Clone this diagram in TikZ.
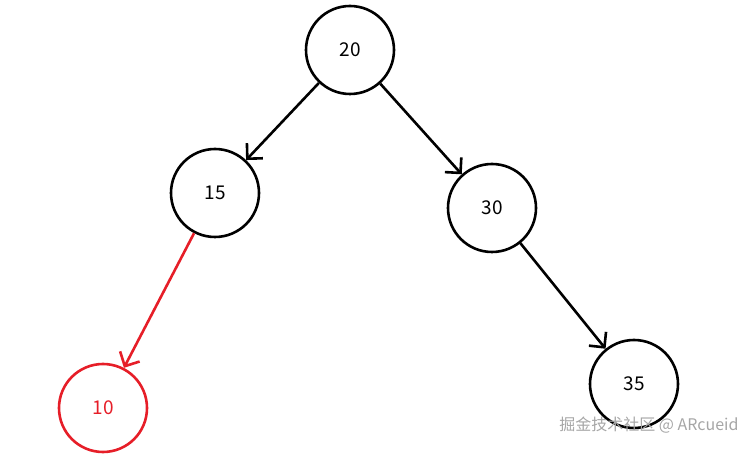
\documentclass[tikz,border=0pt]{standalone}
\usepackage{fontspec}
\setmainfont{Noto Sans CJK SC}
\usetikzlibrary{arrows.meta}
\definecolor{myred}{RGB}{230,30,40}
\begin{document}
\begin{tikzpicture}[x=1pt,y=-1pt,
  nd/.style={circle,draw,line width=2.6pt,minimum size=88pt,inner sep=0pt,font=\fontsize{19}{22}\selectfont},
  ar/.style={line width=2.6pt,-{Straight Barb[length=11pt,width=22pt,line width=2.6pt]}}]
\useasboundingbox (0,0) rectangle (745,454);
\node[nd] (a) at (350,50) {20};
\node[nd] (b) at (215,193) {15};
\node[nd] (c) at (492,208) {30};
\node[nd,draw=myred,text=myred] (d) at (103,408) {10};
\node[nd] (e) at (634,384) {35};
\draw[ar] (a) -- (b);
\draw[ar] (a) -- (c);
\draw[ar] (c) -- (e);
\draw[ar,myred] (b) -- (d);
\node[text=gray!70,font=\fontsize{16}{18}\selectfont,anchor=east] (w) at (742,425) {掘金技术社区 @ ARcueid};
\end{tikzpicture}
\end{document}
